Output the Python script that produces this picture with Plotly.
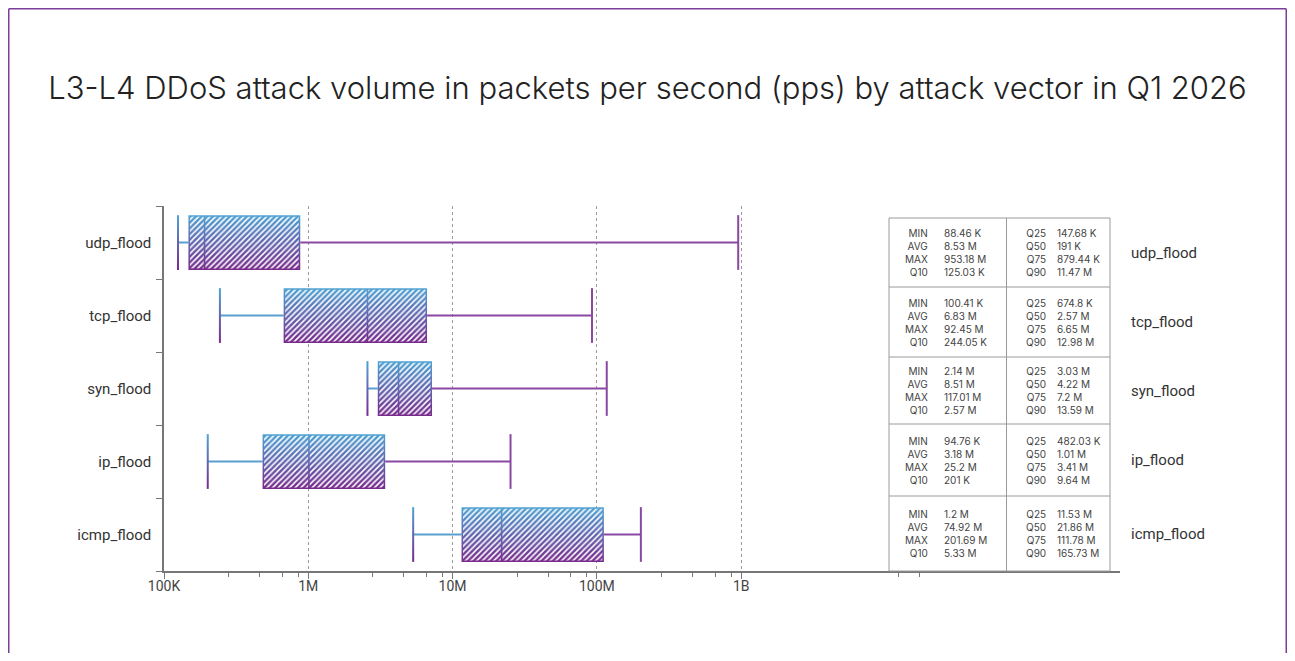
import plotly.graph_objects as go

# ---------------- data ----------------
vectors = ["udp_flood", "tcp_flood", "syn_flood", "ip_flood", "icmp_flood"]
mins = [88.46e3, 100.41e3, 2.14e6, 94.76e3, 1.2e6]
avgs = [8.53e6, 6.83e6, 8.51e6, 3.18e6, 74.92e6]
maxs = [953.18e6, 92.45e6, 117.01e6, 25.2e6, 201.69e6]
q10s = [125.03e3, 244.05e3, 2.57e6, 201e3, 5.33e6]
q25s = [147.68e3, 674.8e3, 3.03e6, 482.03e3, 11.53e6]
q50s = [191e3, 2.57e6, 4.22e6, 1.01e6, 21.86e6]
q75s = [879.44e3, 6.65e6, 7.2e6, 3.41e6, 111.78e6]
q90s = [11.47e6, 12.98e6, 13.59e6, 9.64e6, 165.73e6]

tick_vals = [1e5, 1e6, 1e7, 1e8, 1e9]
tick_text = ["100K", "1M", "10M", "100M", "1B"]
minor_mult = [2.8, 4.6, 6.6, 8.5]

title_text = "L3-L4 DDoS attack volume in packets per second (pps) by attack vector in Q1 2026"

# ---------------- layout geometry (page pixels) ----------------
OFF = 8                      # default page body margin
PW, PH = 1295, 661
W, H = PW - 2 * OFF, PH - 2 * OFF
L, R, T, B = 164, 1120, 206, 571
XMIN, XMAX = 5.0, 11.625
PXD = (R - L) / (XMAX - XMIN)
BAND = (B - T) / len(vectors)

BLUE = "#4fa3d3"
PURPLE = "#782a8b"
WHISK_BLUE = "#5a9fd0"
WHISK_PURPLE = "#8a48a3"
grad = [[0, PURPLE], [1, BLUE]]


def px2x(px):
    return (px - L) / (R - L)


def py2y(py):
    return (B - py) / (B - T)


def fmt(v):
    if v >= 1e6:
        return f"{round(v / 1e6, 2):g} M"
    return f"{round(v / 1e3, 2):g} K"


n = len(vectors)
ypos = [n - 1 - i for i in range(n)]
h = 0.375
fx = 10 ** (1.5 / PXD)
gx = 10 ** (0.8 / PXD)
cx = 10 ** (1.0 / PXD)
dy = 1.5 / BAND

fig = go.Figure()

for i in range(n):
    y = ypos[i]
    fig.add_trace(go.Scatter(x=[q10s[i], q25s[i]], y=[y, y], mode="lines",
                             line=dict(color=WHISK_BLUE, width=2), hoverinfo="skip"))
    fig.add_trace(go.Scatter(x=[q75s[i], maxs[i]], y=[y, y], mode="lines",
                             line=dict(color=WHISK_PURPLE, width=2), hoverinfo="skip"))
    fig.add_trace(go.Scatter(x=[maxs[i], maxs[i]], y=[y - h, y + h], mode="lines",
                             line=dict(color=WHISK_PURPLE, width=2), hoverinfo="skip"))
    a, b = q10s[i] / cx, q10s[i] * cx
    fig.add_trace(go.Scatter(x=[a, b, b, a, a], y=[y - h, y - h, y + h, y + h, y - h],
                             mode="lines", fill="toself",
                             line=dict(width=0, color="rgba(0,0,0,0)"),
                             fillgradient=dict(type="vertical", colorscale=grad),
                             hoverinfo="skip"))
    a, b = q25s[i], q75s[i]
    fig.add_trace(go.Scatter(x=[a, b, b, a, a], y=[y - h, y - h, y + h, y + h, y - h],
                             mode="lines", fill="toself",
                             line=dict(width=0, color="rgba(0,0,0,0)"),
                             fillgradient=dict(type="vertical", colorscale=grad),
                             hoverinfo="skip"))
    for a, b in [(q25s[i] * fx, q50s[i] / gx), (q50s[i] * gx, q75s[i] / fx)]:
        y0, y1 = y - h + dy, y + h - dy
        fig.add_trace(go.Scatter(x=[a, b, b, a, a], y=[y0, y0, y1, y1, y0],
                                 mode="lines", fill="toself",
                                 fillcolor="rgba(0,0,0,0)",
                                 line=dict(width=0, color="rgba(0,0,0,0)"),
                                 fillpattern=dict(shape="/", fgcolor="white",
                                                  bgcolor="rgba(0,0,0,0)",
                                                  size=4, solidity=0.38,
                                                  fillmode="replace"),
                                 hoverinfo="skip"))

minor_vals = [m * 10 ** d for d in range(5, 9) for m in minor_mult] + [1.24e10, 1.73e10]

shapes = []
annotations = []

FR = "#7d3c98"
fl, fr_, ft, fb = OFF + 0.75, OFF + W - 0.75, OFF + 0.75, OFF + H + 2
shapes.append(dict(type="line", xref="paper", yref="paper", x0=px2x(fl), x1=px2x(fr_),
                   y0=py2y(ft), y1=py2y(ft), line=dict(color=FR, width=1.5)))
shapes.append(dict(type="line", xref="paper", yref="paper", x0=px2x(fl), x1=px2x(fl),
                   y0=py2y(ft), y1=py2y(fb), line=dict(color=FR, width=1.5)))
shapes.append(dict(type="line", xref="paper", yref="paper", x0=px2x(fr_), x1=px2x(fr_),
                   y0=py2y(ft), y1=py2y(fb), line=dict(color=FR, width=1.5)))

tx0, txm, tx1 = 889, 1006.5, 1110
row_edges = [218, 287, 357, 424, 496, 571]
TB = "#9a9a9a"
shapes.append(dict(type="rect", xref="paper", yref="paper", x0=px2x(tx0), x1=px2x(tx1),
                   y0=py2y(row_edges[-1]), y1=py2y(row_edges[0]),
                   line=dict(color=TB, width=1), fillcolor="white", layer="above"))
shapes.append(dict(type="line", xref="paper", yref="paper", x0=px2x(txm), x1=px2x(txm),
                   y0=py2y(row_edges[-1]), y1=py2y(row_edges[0]), line=dict(color=TB, width=1)))
for e in row_edges[1:-1]:
    shapes.append(dict(type="line", xref="paper", yref="paper", x0=px2x(tx0), x1=px2x(tx1),
                       y0=py2y(e), y1=py2y(e), line=dict(color=TB, width=1)))

tfont = dict(family="Inter, Roboto, sans-serif", size=10, color="#444")
for i in range(n):
    yc = py2y((row_edges[i] + row_edges[i + 1]) / 2)
    left_vals = "<br>".join(fmt(v) for v in [mins[i], avgs[i], maxs[i], q10s[i]])
    right_vals = "<br>".join(fmt(v) for v in [q25s[i], q50s[i], q75s[i], q90s[i]])
    for xl, lab, xv, vals in [(930, "MIN<br>AVG<br>MAX<br>Q10", 942, left_vals),
                              (1048, "Q25<br>Q50<br>Q75<br>Q90", 1055, right_vals)]:
        annotations.append(dict(xref="paper", yref="paper", x=px2x(xl), y=yc, text=lab,
                                showarrow=False, xanchor="right", yanchor="middle",
                                align="right", font=tfont))
        annotations.append(dict(xref="paper", yref="paper", x=px2x(xv), y=yc, text=vals,
                                showarrow=False, xanchor="left", yanchor="middle",
                                align="left", font=tfont))
    annotations.append(dict(xref="paper", yref="paper", x=px2x(1129), y=yc, text=vectors[i],
                            showarrow=False, xanchor="left", yanchor="middle",
                            font=dict(family="Roboto, sans-serif", size=15, color="#333")))

fig.update_layout(
    width=W, height=H,
    margin=dict(l=L - OFF, r=OFF + W - R, t=T - OFF, b=OFF + H - B, pad=0),
    paper_bgcolor="white", plot_bgcolor="white",
    showlegend=False,
    title=dict(text=title_text, x=(PW / 2 - OFF) / W, xref="container", xanchor="center",
               y=1 - (88 - OFF) / H, yref="container", yanchor="middle",
               font=dict(family="Inter, sans-serif", size=31, color="#222", weight=300)),
    xaxis=dict(type="log", range=[XMIN, XMAX], tickmode="array", tickvals=tick_vals,
               ticktext=tick_text, ticks="outside", ticklen=6, tickwidth=1.2,
               tickcolor="#777", showline=True, linecolor="#777", linewidth=1.5,
               showgrid=True, gridcolor="#9a9a9a", griddash="3px,3px", gridwidth=1,
               zeroline=False, ticklabelstandoff=-5,
               tickfont=dict(family="Roboto, sans-serif", size=14, color="#444"),
               minor=dict(tickmode="array", tickvals=minor_vals, ticks="outside", ticklen=4,
                          tickcolor="#777", tickwidth=1.2, showgrid=False)),
    yaxis=dict(range=[-0.5, n - 0.5], tickmode="array", tickvals=ypos, ticktext=vectors,
               ticks="", showline=True, linecolor="#777", linewidth=1.5, showgrid=False,
               zeroline=False, ticklabelstandoff=8,
               tickfont=dict(family="Roboto, sans-serif", size=15, color="#333"),
               minor=dict(tickmode="array", tickvals=[k - 0.5 for k in range(n + 1)],
                          ticks="outside", ticklen=6, tickcolor="#777", tickwidth=1.2,
                          showgrid=False)),
    shapes=shapes,
    annotations=annotations,
)

fig.write_html("out.html")
